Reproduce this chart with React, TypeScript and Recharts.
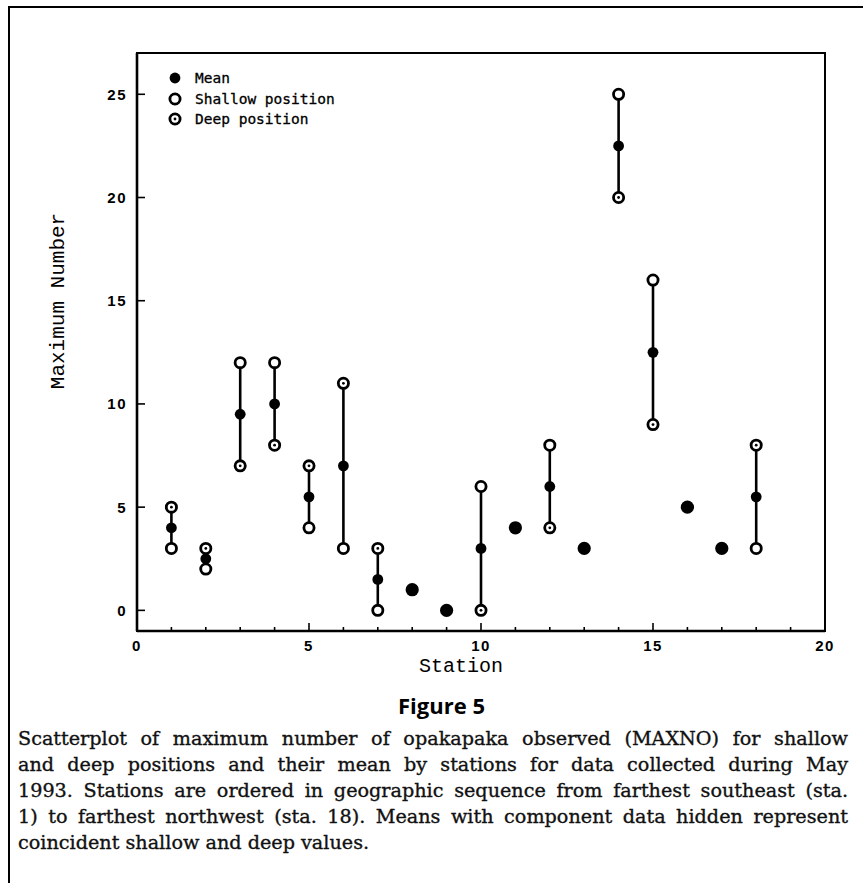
import React from 'react';
import { ScatterChart, Scatter, XAxis, YAxis, ReferenceArea, Label } from 'recharts';

// values, station by station
const STATIONS = [1, 2, 3, 4, 5, 6, 7, 8, 9, 10, 11, 12, 13, 14, 15, 16, 17, 18];
const MEAN = [4, 2.5, 9.5, 10, 5.5, 7, 1.5, 1, 0, 3, 4, 6, 3, 22.5, 12.5, 5, 3, 5.5];
const SHALLOW = [3, 2, 12, 12, 4, 3, 0, 1, 0, 6, 4, 8, 3, 25, 16, 5, 3, 3];
const DEEP = [5, 3, 7, 8, 7, 11, 3, 1, 0, 0, 4, 4, 3, 20, 9, 5, 3, 8];

const X_TICKS = [0, 1, 2, 3, 4, 5, 6, 7, 8, 9, 10, 11, 12, 13, 14, 15, 16, 17, 18, 19, 20];
const Y_TICKS = [0, 5, 10, 15, 20, 25];
const LEGEND = ['Mean', 'Shallow position', 'Deep position'];

const CAPTION = [
  'Scatterplot of maximum number of opakapaka observed (MAXNO) for shallow',
  'and deep positions and their mean by stations for data collected during May',
  '1993. Stations are ordered in geographic sequence from farthest southeast (sta.',
  '1) to farthest northwest (sta. 18). Means with component data hidden represent',
  'coincident shallow and deep values.',
];

const meanData = STATIONS.map((s, i) => ({ x: s, y: MEAN[i], coincident: SHALLOW[i] === DEEP[i] }));
const pairs = STATIONS.map((s, i) => ({ s, sh: SHALLOW[i], dp: DEEP[i] }))
  .filter(p => p.sh !== p.dp)
  .map(p => [
    { x: p.s, y: p.sh, kind: 'shallow' },
    { x: p.s, y: p.dp, kind: 'deep' },
  ]);

const INK = '#000';
const TM = 9; // gap between axis line and tick labels
const TICK_FONT = '"Liberation Sans", Arial, sans-serif';
const MONO = '"Liberation Mono", Cousine, "Courier New", monospace';

const MeanDot = (p: any) => (
  <circle cx={p.cx} cy={p.cy} r={p.payload.coincident ? 6.6 : 5.4} fill={INK} />
);

const Ring = (p: any) => (
  <g>
    <circle cx={p.cx} cy={p.cy} r={5.1} fill="#fff" stroke={INK} strokeWidth={2.8} />
    {p.payload.kind === 'deep' && <circle cx={p.cx} cy={p.cy} r={1.4} fill={INK} />}
  </g>
);

const XTick = ({ x, y, payload }: any) => {
  const v = payload.value;
  const major = v % 5 === 0;
  return (
    <g>
      <line x1={x} x2={x} y1={y - TM} y2={y - TM - (major ? 8 : 4)} stroke={INK} strokeWidth={1.6} />
      {major && (
        <text x={x} y={y} dy="0.7em" textAnchor="middle" fontFamily={TICK_FONT}
          fontWeight="bold" fontSize={15} letterSpacing={1.5} fill={INK}>{v}</text>
      )}
    </g>
  );
};

const YTick = ({ x, y, payload }: any) => (
  <g>
    <line x1={x + TM} x2={x + TM + 8} y1={y} y2={y} stroke={INK} strokeWidth={1.6} />
    <text x={x - 1} y={y} dy="0.36em" textAnchor="end" fontFamily={TICK_FONT}
      fontWeight="bold" fontSize={15} letterSpacing={1.5} fill={INK}>{payload.value}</text>
  </g>
);

const LegendMark = ({ kind }: { kind: string }) => (
  <svg width={16} height={16} style={{ display: 'block' }}>
    {kind === 'Mean'
      ? <circle cx={8} cy={8} r={5.4} fill={INK} />
      : <circle cx={8} cy={8} r={5.1} fill="#fff" stroke={INK} strokeWidth={2.8} />}
    {kind === 'Deep position' && <circle cx={8} cy={8} r={1.4} fill={INK} />}
  </svg>
);

export default function App() {
  return (
    <div style={{ position: 'absolute', left: 0, top: 0, width: 863, height: 883, background: '#fff', overflow: 'hidden' }}>
      {/* page frame */}
      <div style={{ position: 'absolute', left: 8, top: 6, width: 855, height: 2, background: INK }} />
      <div style={{ position: 'absolute', left: 8, top: 6, width: 2, height: 877, background: INK }} />

      <div style={{ position: 'absolute', left: 0, top: 0 }}>
        <ScatterChart width={863} height={700} margin={{ top: 53, right: 38, bottom: 39, left: 77 }}>
          <XAxis type="number" dataKey="x" domain={[0, 20]} ticks={X_TICKS} interval={0}
            allowDataOverflow tickSize={0} tickMargin={TM} tick={<XTick />}
            axisLine={{ stroke: INK, strokeWidth: 2.6 }} tickLine={false}>
            <Label content={({ viewBox }: any) => (
              <text x={viewBox.x + viewBox.width / 2 - 20} y={672} textAnchor="middle"
                fontFamily={MONO} fontSize={20} fill={INK}>Station</text>
            )} />
          </XAxis>
          <YAxis type="number" dataKey="y" domain={[-1, 27]} ticks={Y_TICKS} interval={0}
            allowDataOverflow tickSize={0} tickMargin={TM} tick={<YTick />}
            axisLine={{ stroke: INK, strokeWidth: 2.6 }} tickLine={false}>
            <Label content={() => (
              <text x={57} y={301} transform="rotate(-90 57 301)" textAnchor="middle" dy="0.35em"
                fontFamily={MONO} fontSize={21} fill={INK}>Maximum Number</text>
            )} />
          </YAxis>
          <ReferenceArea x1={0} x2={20} y1={-1} y2={27} fill="none" stroke={INK} strokeWidth={2} />
          <Scatter name="Mean" data={meanData} shape={MeanDot} isAnimationActive={false} />
          {pairs.map((d, i) => (
            <Scatter key={i} data={d} shape={Ring} line={{ stroke: INK, strokeWidth: 2.6 }}
              legendType="none" isAnimationActive={false} />
          ))}
        </ScatterChart>
      </div>

      {/* legend */}
      <div style={{ position: 'absolute', left: 167, top: 68 }}>
        {LEGEND.map(l => (
          <div key={l} style={{ display: 'flex', alignItems: 'center', height: 20.5 }}>
            <LegendMark kind={l} />
            <span style={{ marginLeft: 12, fontFamily: '"DejaVu Sans Mono", monospace', fontSize: 14.5, color: INK, WebkitTextStroke: '0.3px #000' }}>{l}</span>
          </div>
        ))}
      </div>

      <div style={{ position: 'absolute', left: 0, width: 883, top: 690, textAlign: 'center' }}>
        <span style={{ fontFamily: '"Open Sans", sans-serif', fontWeight: 700, fontSize: 22, color: INK }}>Figure 5</span>
      </div>

      <div style={{ position: 'absolute', left: 18, top: 726, width: 830, fontFamily: '"DejaVu Serif", "Liberation Serif", serif', fontSize: 19.2, lineHeight: '26px', color: '#111', WebkitTextStroke: '0.35px #111' }}>
        {CAPTION.map((line, i) => (
          <div key={i} style={{ textAlign: i < CAPTION.length - 1 ? 'justify' : 'left', textAlignLast: i < CAPTION.length - 1 ? 'justify' : 'left', whiteSpace: 'nowrap' }}>{line}</div>
        ))}
      </div>
    </div>
  );
}
